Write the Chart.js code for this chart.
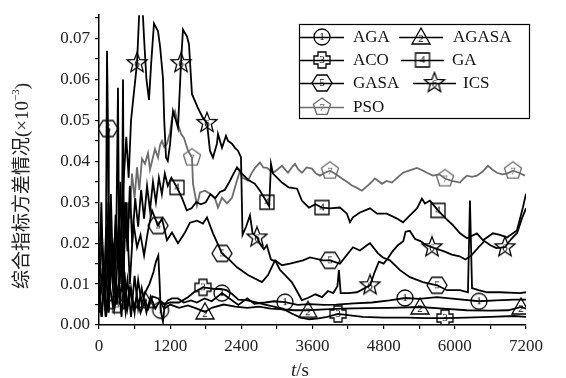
<!DOCTYPE html>
<html lang="zh">
<head>
<meta charset="UTF-8">
<title>综合指标方差情况</title>
<script src="https://cdn.jsdelivr.net/npm/chart.js"></script>
<style>
  html, body { margin: 0; padding: 0; background: #fff; }
</style>
</head>
<body>
<canvas id="chart" width="566" height="378"></canvas>
<script>
// axis ticks (major every 1200 s / 0.01, minor in between)
const xTicks = [0, 600, 1200, 1800, 2400, 3000, 3600, 4200, 4800, 5400, 6000, 6600, 7200];
const yTicks = [0, 0.005, 0.01, 0.015, 0.02, 0.025, 0.03, 0.035, 0.04, 0.045, 0.05, 0.055, 0.06, 0.065, 0.07, 0.075];

// [t (s), value]
const agaData = [[0,0.008],[40,0.002],[90,0.011],[130,0.003],[200,0.016],[260,0.004],[330,0.010],[380,0.002],[430,0.013],[480,0.004],[540,0.009],[600,0.003],[660,0.011],[720,0.005],[780,0.008],[850,0.010],[920,0.013],[960,0.0155],[1000,0.017],[1020,0.011],[1040,0.0036],[1079,0.0008],[1110,0.005],[1160,0.006],[1230,0.0065],[1330,0.0065],[1430,0.0055],[1550,0.006],[1650,0.0055],[1780,0.0065],[1900,0.0058],[2074,0.0078],[2200,0.0065],[2350,0.0049],[2500,0.0065],[2620,0.0052],[2800,0.0055],[2950,0.0058],[3136,0.0056],[3350,0.0049],[3550,0.0051],[3800,0.0049],[4000,0.005],[4300,0.0053],[4600,0.0055],[4900,0.006],[5160,0.0066],[5400,0.0064],[5700,0.0068],[6000,0.0064],[6407,0.0058],[6700,0.006],[7000,0.0062],[7200,0.0062]];
const agasaData = [[0,0.003],[60,0.012],[120,0.002],[180,0.010],[240,0.004],[290,0.020],[320,0.058],[345,0.005],[400,0.012],[450,0.003],[520,0.009],[580,0.004],[640,0.007],[700,0.003],[776,0.006],[830,0.004],[900,0.007],[1000,0.0065],[1100,0.004],[1200,0.005],[1350,0.0042],[1500,0.0048],[1650,0.004],[1787,0.0032],[1900,0.0042],[2100,0.005],[2300,0.0045],[2500,0.0042],[2700,0.0045],[2900,0.004],[3100,0.0038],[3300,0.0036],[3524,0.0036],[3800,0.0038],[4100,0.004],[4500,0.0041],[4900,0.0042],[5412,0.0044],[5800,0.004],[6200,0.0036],[6600,0.0035],[6900,0.0036],[7115,0.0044],[7200,0.004]];
const acoData = [[0,0.010],[50,0.002],[100,0.015],[160,0.005],[230,0.020],[300,0.005],[350,0.012],[390,0.030],[405,0.060],[425,0.004],[480,0.011],[540,0.002],[600,0.012],[660,0.004],[720,0.009],[800,0.003],[870,0.007],[950,0.004],[1030,0.006],[1100,0.005],[1200,0.0055],[1350,0.0055],[1500,0.0068],[1600,0.008],[1753,0.0092],[1850,0.009],[1950,0.0088],[2050,0.0088],[2150,0.0085],[2250,0.0075],[2350,0.0062],[2500,0.006],[2650,0.0055],[2800,0.005],[2950,0.0045],[3100,0.004],[3250,0.0028],[3400,0.0018],[3550,0.0014],[3700,0.0016],[3850,0.002],[4030,0.0027],[4200,0.0024],[4450,0.002],[4800,0.0018],[5200,0.0018],[5500,0.0017],[5834,0.0017],[6200,0.0018],[6600,0.002],[7000,0.0022],[7200,0.002]];
const gaData = [[0,0.012],[40,0.030],[80,0.006],[120,0.024],[160,0.008],[200,0.032],[240,0.010],[280,0.027],[320,0.014],[360,0.035],[400,0.012],[440,0.030],[480,0.018],[520,0.034],[560,0.020],[610,0.031],[660,0.024],[710,0.033],[760,0.026],[810,0.034],[860,0.028],[910,0.035],[960,0.030],[1010,0.036],[1060,0.032],[1110,0.037],[1160,0.034],[1220,0.036],[1315,0.0336],[1400,0.031],[1480,0.028],[1560,0.0285],[1640,0.030],[1720,0.0295],[1800,0.030],[1880,0.032],[1960,0.031],[2040,0.0325],[2120,0.033],[2200,0.035],[2270,0.037],[2327,0.0385],[2410,0.037],[2512,0.0355],[2630,0.0345],[2714,0.0328],[2832,0.030],[2870,0.029],[2900,0.0394],[2934,0.037],[3085,0.0348],[3200,0.0336],[3340,0.0333],[3420,0.0304],[3540,0.0287],[3650,0.0295],[3760,0.0287],[3895,0.0285],[4063,0.0287],[4180,0.0272],[4232,0.0251],[4282,0.0263],[4400,0.0275],[4570,0.0285],[4690,0.0272],[4855,0.0272],[5025,0.026],[5126,0.0251],[5243,0.0268],[5361,0.0285],[5445,0.0309],[5496,0.0297],[5580,0.0304],[5716,0.028],[5850,0.026],[5960,0.0245],[6087,0.0224],[6205,0.0212],[6373,0.0224],[6475,0.0207],[6643,0.0224],[6760,0.022],[6879,0.0214],[7047,0.0231],[7148,0.0287],[7200,0.0321]];
const gasaData = [[0,0.004],[60,0.014],[110,0.002],[135,0.067],[152,0.048],[165,0.003],[220,0.020],[280,0.006],[340,0.026],[400,0.008],[460,0.030],[520,0.010],[580,0.025],[641,0.019],[700,0.022],[760,0.017],[826,0.023],[894,0.028],[995,0.0243],[1062,0.026],[1146,0.0207],[1231,0.0226],[1332,0.020],[1450,0.0226],[1534,0.025],[1652,0.0255],[1753,0.0248],[1821,0.0263],[1922,0.0224],[2074,0.0175],[2209,0.0158],[2327,0.0141],[2512,0.0122],[2748,0.0105],[2850,0.0122],[2968,0.0158],[3085,0.0146],[3220,0.015],[3440,0.0158],[3557,0.0165],[3777,0.0158],[3895,0.0158],[4063,0.015],[4282,0.019],[4400,0.0182],[4518,0.0195],[4570,0.020],[4704,0.0175],[4788,0.0165],[4906,0.0158],[5075,0.0134],[5243,0.0117],[5462,0.0105],[5699,0.0097],[5867,0.0085],[6087,0.0085],[6221,0.008],[6255,0.0304],[6290,0.009],[6400,0.0085],[6542,0.008],[6761,0.008],[7098,0.0078],[7200,0.008]];
const icsData = [[0,0.006],[50,0.022],[100,0.008],[160,0.030],[220,0.012],[290,0.026],[350,0.010],[410,0.034],[460,0.046],[500,0.036],[540,0.050],[641,0.064],[690,0.080],[725,0.080],[760,0.070],[800,0.060],[843,0.055],[880,0.064],[927,0.0737],[995,0.0718],[1030,0.068],[1079,0.0603],[1100,0.050],[1130,0.0409],[1160,0.0401],[1197,0.044],[1248,0.0523],[1298,0.0499],[1332,0.0482],[1383,0.064],[1416,0.0722],[1484,0.0705],[1517,0.0686],[1568,0.0564],[1619,0.0547],[1669,0.053],[1753,0.0506],[1821,0.0494],[1871,0.0426],[1922,0.0409],[1989,0.0443],[2006,0.0467],[2074,0.0433],[2141,0.0462],[2175,0.045],[2242,0.0443],[2293,0.0433],[2343,0.0426],[2394,0.041],[2420,0.022],[2480,0.024],[2546,0.0268],[2590,0.0224],[2664,0.0214],[2730,0.0195],[2780,0.0185],[2830,0.0195],[2900,0.016],[2980,0.0155],[3050,0.0135],[3150,0.012],[3250,0.0105],[3330,0.0085],[3420,0.0061],[3520,0.0066],[3650,0.0075],[3760,0.0068],[3860,0.0083],[3950,0.0078],[4020,0.0095],[4045,0.0134],[4075,0.0078],[4200,0.0078],[4350,0.008],[4570,0.0097],[4650,0.013],[4720,0.0155],[4800,0.015],[4880,0.0165],[4950,0.018],[5040,0.0195],[5130,0.0205],[5170,0.0228],[5240,0.023],[5330,0.021],[5420,0.0205],[5520,0.0195],[5614,0.019],[5720,0.0185],[5820,0.018],[5950,0.0172],[6080,0.0168],[6180,0.016],[6280,0.017],[6400,0.019],[6500,0.0205],[6600,0.0195],[6700,0.0188],[6845,0.019],[6950,0.021],[7050,0.0225],[7130,0.026],[7200,0.0285]];
const psoData = [[0,0.018],[40,0.024],[80,0.010],[120,0.021],[150,0.014],[190,0.026],[220,0.012],[260,0.020],[300,0.016],[340,0.024],[380,0.017],[420,0.028],[450,0.021],[490,0.030],[520,0.026],[556,0.037],[600,0.031],[641,0.0385],[680,0.033],[725,0.0406],[776,0.0394],[826,0.042],[860,0.038],[894,0.040],[944,0.043],[995,0.0409],[1030,0.044],[1062,0.045],[1100,0.0435],[1146,0.0443],[1197,0.047],[1231,0.0506],[1281,0.0523],[1332,0.049],[1383,0.0467],[1433,0.0457],[1501,0.0426],[1568,0.0409],[1585,0.0345],[1652,0.0292],[1703,0.0324],[1787,0.0328],[1871,0.0321],[1956,0.0309],[2006,0.0287],[2074,0.0311],[2158,0.0297],[2242,0.0311],[2327,0.0353],[2377,0.0377],[2411,0.036],[2512,0.0353],[2570,0.037],[2630,0.0384],[2714,0.0397],[2770,0.0385],[2832,0.0384],[2934,0.0372],[3010,0.038],[3085,0.0389],[3187,0.0372],[3250,0.0385],[3305,0.0394],[3360,0.038],[3423,0.0372],[3500,0.0385],[3591,0.0382],[3660,0.037],[3726,0.0365],[3810,0.0372],[3895,0.0377],[4000,0.0368],[4097,0.0358],[4180,0.035],[4266,0.0341],[4350,0.0335],[4434,0.0328],[4535,0.0341],[4600,0.035],[4653,0.0358],[4710,0.0352],[4771,0.0345],[4850,0.0352],[4940,0.0348],[5030,0.036],[5126,0.0372],[5240,0.0378],[5361,0.0384],[5450,0.0378],[5530,0.0372],[5631,0.0365],[5740,0.0368],[5834,0.0358],[5950,0.0352],[6087,0.0348],[6150,0.0358],[6205,0.0365],[6290,0.0362],[6373,0.0365],[6470,0.0375],[6559,0.0389],[6630,0.038],[6710,0.0372],[6800,0.0368],[6879,0.037],[6980,0.0377],[7080,0.0372],[7182,0.0365]];

// times where the numbered marker sits on each curve
const agaMarks = [1040, 2074, 3136, 5160, 6407];
const agasaMarks = [776, 1787, 3524, 5412, 7115];
const acoMarks = [300, 1753, 4030, 5834];
const gaMarks = [1315, 2832, 3760, 5716];
const gasaMarks = [152, 995, 2074, 3895, 5699];
const icsMarks = [641, 1383, 1821, 2664, 4570, 5614, 6845];
const psoMarks = [1568, 3895, 5834, 6980];

const BLACK = '#000';
const GRAY = '#6c6c6c';
const SERIF = '"Liberation Serif", "Times New Roman", serif';

function makeMarker(shape, num, color) {
    const c = document.createElement('canvas');
    c.width = 24; c.height = 24;
    const g = c.getContext('2d');
    g.translate(12, 12);
    g.strokeStyle = color;
    g.lineWidth = 1.3;
    g.beginPath();
    const poly = pts => { g.moveTo(pts[0][0], pts[0][1]); pts.slice(1).forEach(p => g.lineTo(p[0], p[1])); g.closePath(); };
    if (shape === 'circle') {
        g.arc(0, 0, 8, 0, Math.PI * 2);
    } else if (shape === 'triangle') {
        poly([[0, -9], [9, 7], [-9, 7]]);
    } else if (shape === 'cross') {
        const a = 4, b = 8;
        poly([[-a, -b], [a, -b], [a, -a], [b, -a], [b, a], [a, a], [a, b], [-a, b], [-a, a], [-b, a], [-b, -a], [-a, -a]]);
    } else if (shape === 'square') {
        g.rect(-7, -7, 14, 14);
    } else if (shape === 'hexagon') {
        poly([[-10, 0], [-5, -8], [5, -8], [10, 0], [5, 8], [-5, 8]]);
    } else if (shape === 'star') {
        const pts = [];
        for (let i = 0; i < 10; i++) {
            const r = i % 2 ? 4.5 : 10.5;
            const ang = -Math.PI / 2 + i * Math.PI / 5;
            pts.push([r * Math.cos(ang), r * Math.sin(ang)]);
        }
        poly(pts);
    } else if (shape === 'pentagon') {
        const pts = [];
        for (let i = 0; i < 5; i++) {
            const ang = -Math.PI / 2 + i * 2 * Math.PI / 5;
            pts.push([9 * Math.cos(ang), 9 * Math.sin(ang)]);
        }
        poly(pts);
    }
    g.stroke();
    g.fillStyle = color;
    g.font = '11px ' + SERIF;
    g.textAlign = 'center';
    g.textBaseline = 'middle';
    const dy = shape === 'triangle' ? 2 : (shape === 'pentagon' || shape === 'star') ? 1 : 0.5;
    g.fillText(num, 0, dy);
    return c;
}

const series = [
    { label: 'AGA', data: agaData, marks: agaMarks, shape: 'circle', num: '1', color: BLACK },
    { label: 'AGASA', data: agasaData, marks: agasaMarks, shape: 'triangle', num: '2', color: BLACK },
    { label: 'ACO', data: acoData, marks: acoMarks, shape: 'cross', num: '3', color: BLACK },
    { label: 'GA', data: gaData, marks: gaMarks, shape: 'square', num: '4', color: BLACK },
    { label: 'GASA', data: gasaData, marks: gasaMarks, shape: 'hexagon', num: '5', color: BLACK },
    { label: 'ICS', data: icsData, marks: icsMarks, shape: 'star', num: '6', color: BLACK },
    { label: 'PSO', data: psoData, marks: psoMarks, shape: 'pentagon', num: '7', color: GRAY },
];
series.forEach(s => { s.img = makeMarker(s.shape, s.num, s.color); });

// legend slots: [x of line start, line end, text x, y]
const legendSlots = {
    AGA: [300, 344, 353, 37], AGASA: [399, 443, 453, 37],
    ACO: [300, 344, 353, 60], GA: [401, 444, 452, 60],
    GASA: [300, 344, 353, 83], ICS: [413, 456, 463, 83],
    PSO: [300, 344, 353, 107],
};

const overlay = {
    id: 'overlay',
    afterDraw(chart) {
        const ctx = chart.ctx;
        ctx.save();
        ctx.fillStyle = '#222';

        // y title with superscript
        ctx.save();
        ctx.translate(23, 186);
        ctx.rotate(-Math.PI / 2);
        const big = '19px ' + SERIF.replace('serif', '"Noto Sans CJK SC", serif');
        const small = '11px ' + SERIF;
        const p1 = '综合指标方差情况(×10', p2 = '−3', p3 = ')';
        ctx.font = big; const w1 = ctx.measureText(p1).width; const w3 = ctx.measureText(p3).width;
        ctx.font = small; const w2 = ctx.measureText(p2).width;
        let x0 = -(w1 + w2 + w3) / 2;
        ctx.textBaseline = 'middle';
        ctx.textAlign = 'left';
        ctx.font = big; ctx.fillText(p1, x0, 0);
        ctx.font = small; ctx.fillText(p2, x0 + w1, -7);
        ctx.font = big; ctx.fillText(p3, x0 + w1 + w2, 0);
        ctx.restore();

        // x title t/s
        ctx.textBaseline = 'alphabetic';
        ctx.textAlign = 'left';
        ctx.font = 'italic 19px ' + SERIF;
        ctx.fillText('t', 291, 376);
        const wt = ctx.measureText('t').width;
        ctx.font = '19px ' + SERIF;
        ctx.fillText('/s', 291 + wt, 376);

        // legend box
        ctx.strokeStyle = '#000';
        ctx.lineWidth = 1.2;
        ctx.strokeRect(299.5, 24.5, 230, 94);
        ctx.font = '17px ' + SERIF;
        ctx.textBaseline = 'middle';
        series.forEach(s => {
            const [a, b, tx, y] = legendSlots[s.label];
            ctx.strokeStyle = s.color;
            ctx.lineWidth = 1.6;
            ctx.beginPath();
            ctx.moveTo(a, y + 0.5);
            ctx.lineTo(b, y + 0.5);
            ctx.stroke();
            ctx.drawImage(s.img, (a + b) / 2 - 12, y - 12);
            ctx.fillStyle = '#111';
            ctx.fillText(s.label, tx, y + 1);
        });
        ctx.restore();
    }
};

// draw gray PSO underneath the black curves
const drawOrder = [5, 4, 3, 2, 1, 0, 6];

new Chart(document.getElementById('chart'), {
    type: 'line',
    data: {
        datasets: series.map((s, k) => ({
            label: s.label,
            data: s.data.map(p => ({ x: p[0], y: p[1] })),
            borderColor: s.color,
            borderWidth: 1.8,
            tension: 0,
            fill: false,
            order: drawOrder[k],
            pointStyle: s.img,
            pointRadius: c => s.marks.includes(s.data[c.dataIndex][0]) ? 8 : 0,
            pointHoverRadius: 0,
        })),
    },
    options: {
        responsive: false,
        animation: false,
        events: [],
        layout: { padding: { left: 0, right: 40, top: 14, bottom: 0 } },
        plugins: { legend: { display: false }, tooltip: { enabled: false } },
        scales: {
            x: {
                type: 'linear',
                min: 0,
                max: 7200,
                afterBuildTicks: sc => { sc.ticks = xTicks.map(v => ({ value: v })); },
                afterFit: sc => { sc.height = 53; },
                ticks: {
                    autoSkip: false,
                    maxRotation: 0,
                    padding: 7,
                    color: '#222',
                    font: { family: SERIF, size: 17 },
                    callback: v => (v % 1200 === 0 ? String(v) : ''),
                },
                grid: { drawOnChartArea: false, drawTicks: true, tickLength: 4, color: '#000', lineWidth: 1.2 },
                border: { display: true, color: '#000', width: 1.5 },
            },
            y: {
                min: 0,
                max: 0.0757,
                afterBuildTicks: sc => { sc.ticks = yTicks.map(v => ({ value: v })); },
                afterFit: sc => { sc.width = 99; },
                ticks: {
                    autoSkip: false,
                    padding: 5,
                    color: '#222',
                    font: { family: SERIF, size: 17 },
                    callback: v => (Math.round(v * 1000) % 10 === 0 ? v.toFixed(2) : ''),
                },
                grid: { drawOnChartArea: false, drawTicks: true, tickLength: 4, color: '#000', lineWidth: 1.2 },
                border: { display: true, color: '#000', width: 1.5 },
            },
        },
    },
    plugins: [overlay],
});
</script>
</body>
</html>
